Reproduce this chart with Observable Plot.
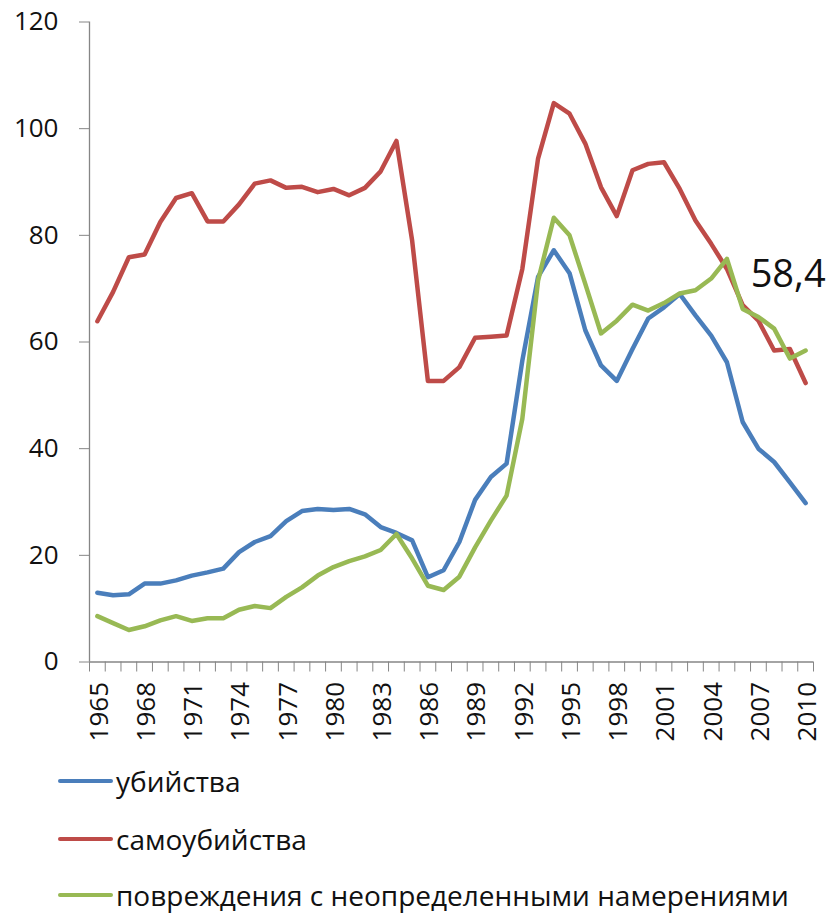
<!DOCTYPE html>
<html>
<head>
<meta charset="utf-8">
<script src="https://cdn.jsdelivr.net/npm/d3@7"></script>
<script src="https://cdn.jsdelivr.net/npm/@observablehq/plot@0.6"></script>
<style>
  html, body { margin: 0; padding: 0; background: #fff; }
  #wrap { position: relative; width: 834px; height: 913px; font-family: "Open Sans", sans-serif; }
  .leg { position: absolute; left: 58px; display: flex; align-items: center; font-size: 28px; color: #111; white-space: nowrap; }
  .sw { width: 55px; height: 4px; border-radius: 2px; margin-right: 3px; }
</style>
</head>
<body>
<div id="wrap"></div>
<script>
const years = d3.range(1965, 2011);
const labelYears = [1965, 1968, 1971, 1974, 1977, 1980, 1983, 1986, 1989, 1992, 1995, 1998, 2001, 2004, 2007, 2010];
const yTicks = [0, 20, 40, 60, 80, 100, 120];

const seriesNames = ["убийства", "самоубийства", "повреждения с неопределенными намерениями"];
const seriesColors = ["#4A7EBB", "#BE4B48", "#98B954"];

const homicides = [13.0, 12.5, 12.7, 14.7, 14.7, 15.3, 16.2, 16.8, 17.5, 20.6,
  22.5, 23.6, 26.4, 28.3, 28.7, 28.5, 28.7, 27.7, 25.3, 24.2,
  22.8, 15.9, 17.2, 22.5, 30.4, 34.7, 37.2, 56.5, 72.2, 77.2,
  72.9, 62.2, 55.6, 52.7, 58.7, 64.4, 66.5, 69.0, 65.0, 61.2,
  56.2, 45.0, 40.0, 37.5, 33.7, 29.8];
const suicides = [63.9, 69.4, 75.9, 76.4, 82.5, 87.0, 87.9, 82.6, 82.6, 85.8,
  89.7, 90.3, 88.9, 89.1, 88.1, 88.7, 87.5, 88.9, 92.0, 97.7,
  79.0, 52.7, 52.7, 55.3, 60.8, 61.0, 61.2, 73.7, 94.4, 104.8,
  102.8, 97.2, 89.0, 83.6, 92.2, 93.4, 93.7, 88.7, 82.8, 78.4,
  73.7, 66.9, 64.0, 58.4, 58.7, 52.3];
const undetermined = [8.6, 7.3, 6.0, 6.7, 7.8, 8.6, 7.7, 8.2, 8.2, 9.8,
  10.5, 10.1, 12.2, 14.0, 16.2, 17.8, 18.9, 19.8, 21.0, 24.0,
  19.4, 14.3, 13.5, 16.0, 21.5, 26.5, 31.2, 45.6, 71.5, 83.3,
  80.0, 70.9, 61.6, 64.0, 67.0, 65.9, 67.3, 69.1, 69.7, 71.9,
  75.6, 66.2, 64.7, 62.5, 56.9, 58.4];
const endLabel = "58,4";

const allSeries = [homicides, suicides, undetermined];
const rows = [];
allSeries.forEach((vals, si) => {
  vals.forEach((v, i) => rows.push({year: years[i], value: v, series: seriesNames[si]}));
});
const boundaries = years.map(y => y - 0.5).concat([years[years.length - 1] + 0.5]);
const lastGreen = [{year: years[years.length - 1], value: undetermined[undetermined.length - 1], label: endLabel}];

const axisColor = "#868686";

const chart = Plot.plot({
  width: 834,
  height: 760,
  marginLeft: 89,
  marginRight: 21,
  marginTop: 21.5,
  marginBottom: 98.5,
  style: {fontFamily: "Open Sans, sans-serif", background: "#fff", color: "#111"},
  x: {type: "linear", domain: [boundaries[0], boundaries[boundaries.length - 1]]},
  y: {domain: [0, 120]},
  color: {domain: seriesNames, range: seriesColors},
  marks: [
    Plot.axisY({ticks: yTicks, tickSize: 10, tickPadding: 21, fontSize: 26, stroke: axisColor, label: null, tickFormat: d => String(d)}),
    Plot.ruleX([boundaries[0]], {stroke: axisColor, strokeWidth: 1.3}),
    Plot.ruleY([0], {stroke: axisColor, strokeWidth: 1.3}),
    Plot.axisX({ticks: boundaries, tickSize: 10, stroke: axisColor, tickFormat: () => "", label: null}),
    Plot.axisX({ticks: labelYears, tickSize: 0, tickPadding: 20, tickRotate: -90, fontSize: 26, dx: 2, label: null, tickFormat: d => String(d)}),
    Plot.line(rows, {x: "year", y: "value", z: "series", stroke: "series", strokeWidth: 4.5, strokeLinejoin: "round", strokeLinecap: "round"}),
    Plot.text(lastGreen, {x: "year", y: "value", text: "label", textAnchor: "start", dx: -55, dy: -76, fontSize: 38, fill: "#111"})
  ]
});
const wrap = document.getElementById("wrap");
wrap.appendChild(chart);

const legendY = [781, 839, 895];
seriesNames.forEach((name, i) => {
  const d = document.createElement("div");
  d.className = "leg";
  d.style.top = (legendY[i] - 20) + "px";
  d.style.height = "40px";
  const sw = document.createElement("span");
  sw.className = "sw";
  sw.style.background = seriesColors[i];
  const t = document.createElement("span");
  t.textContent = name;
  d.appendChild(sw);
  d.appendChild(t);
  wrap.appendChild(d);
});
</script>
</body>
</html>
